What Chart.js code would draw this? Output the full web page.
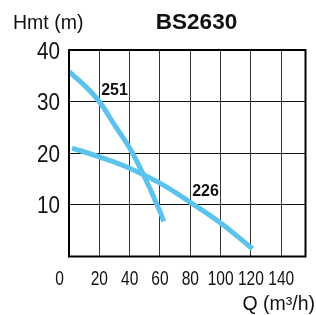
<!DOCTYPE html>
<html>
<head>
<meta charset="utf-8">
<script src="https://cdn.jsdelivr.net/npm/chart.js@4"></script>
<style>
  html, body { margin: 0; padding: 0; background: #fff; }
  canvas { display: block; }
</style>
</head>
<body>
<canvas id="pumpChart" width="316" height="315"></canvas>
<script>
// Curvas de la bomba BS2630 (caudal m3/h, altura m)
const flow251 = [0, 10, 20, 30, 40, 50, 60, 62.5];
const head251 = [35.8, 33.2, 30, 25.5, 21, 15.3, 8.7, 6.8];

const flow226 = [2, 20, 40, 60, 80, 100, 121];
const head226 = [21, 19.3, 17.1, 14.2, 10.5, 6.5, 1.5];

const xTicks = [0, 20, 40, 60, 80, 100, 120, 140];
const yTicks = [10, 20, 30, 40];

const curveColor = '#5bc3ec';
const baseFont = "'Liberation Sans', Arial, sans-serif";

function toPoints(xs, ys) {
    return xs.map((q, i) => ({ x: q, y: ys[i] }));
}

// texto estrecho (no hay fuente Narrow instalada): se comprime en horizontal
function narrowText(ctx, text, x, y, size, squeeze, align) {
    ctx.save();
    ctx.translate(x, y);
    ctx.scale(squeeze, 1);
    ctx.font = size + 'px ' + baseFont;
    ctx.textAlign = align;
    ctx.textBaseline = 'alphabetic';
    ctx.fillText(text, 0, 0);
    ctx.restore();
}

// Textos: marco, título, unidades, etiquetas de ejes y de curvas
const labelsPlugin = {
    id: 'labels',
    afterDraw(chart) {
        const ctx = chart.ctx;
        const area = chart.chartArea;
        const xs = chart.scales.x;
        const ys = chart.scales.y;
        ctx.save();

        // marco del gráfico
        ctx.strokeStyle = '#000';
        ctx.lineWidth = 2;
        ctx.strokeRect(area.left, area.top, area.right - area.left, area.bottom - area.top);

        ctx.fillStyle = '#111';

        // etiquetas de los ejes
        xTicks.forEach(v => {
            // el cero va corrido a la izquierda del marco
            const px = v === 0 ? area.left - 9.5 : xs.getPixelForValue(v);
            narrowText(ctx, String(v), px, 285, 21, 0.74, 'center');
        });
        yTicks.forEach(v => {
            narrowText(ctx, String(v), 60, ys.getPixelForValue(v) + 8.6, 24, 0.86, 'right');
        });

        ctx.textBaseline = 'alphabetic';
        ctx.font = '19.5px ' + baseFont;
        ctx.textAlign = 'left';
        ctx.fillText('Hmt (m)', 13, 29);

        ctx.textAlign = 'right';
        ctx.fillText('Q (m³/h)', 315, 309.5);

        ctx.font = 'bold 22.5px ' + baseFont;
        ctx.textAlign = 'center';
        ctx.fillText('BS2630', 196.5, 29);

        ctx.font = 'bold 16px ' + baseFont;
        ctx.textBaseline = 'middle';
        ctx.fillText('251', 114.5, 91);
        ctx.fillText('226', 205.5, 192);
        ctx.restore();
    }
};

const ctx = document.getElementById('pumpChart').getContext('2d');
const myChart = new Chart(ctx, {
    type: 'line',
    data: {
        datasets: [
            {
                label: '251',
                data: toPoints(flow251, head251),
                borderColor: curveColor,
                borderWidth: 5,
                borderCapStyle: 'butt',
                pointRadius: 0,
                fill: false,
                tension: 0.4
            },
            {
                label: '226',
                data: toPoints(flow226, head226),
                borderColor: curveColor,
                borderWidth: 5,
                borderCapStyle: 'butt',
                pointRadius: 0,
                fill: false,
                tension: 0.4
            }
        ]
    },
    options: {
        responsive: false,
        animation: false,
        layout: { padding: { top: 50, right: 10.5, left: 0, bottom: 0 } },
        plugins: {
            legend: { display: false },
            tooltip: { enabled: false },
            title: { display: false }
        },
        scales: {
            x: {
                type: 'linear',
                min: 0,
                max: 156,
                afterFit: (scale) => { scale.height = 58.5; },
                afterBuildTicks: (scale) => { scale.ticks = xTicks.map(v => ({ value: v })); },
                border: { display: false },
                grid: { color: '#333', lineWidth: 1, drawTicks: false },
                ticks: { display: false }
            },
            y: {
                min: 0,
                max: 40,
                afterFit: (scale) => { scale.width = 69; },
                afterBuildTicks: (scale) => { scale.ticks = [0].concat(yTicks).map(v => ({ value: v })); },
                border: { display: false },
                grid: { color: '#111', lineWidth: 1, drawTicks: false },
                ticks: { display: false }
            }
        }
    },
    plugins: [labelsPlugin]
});
</script>
</body>
</html>
